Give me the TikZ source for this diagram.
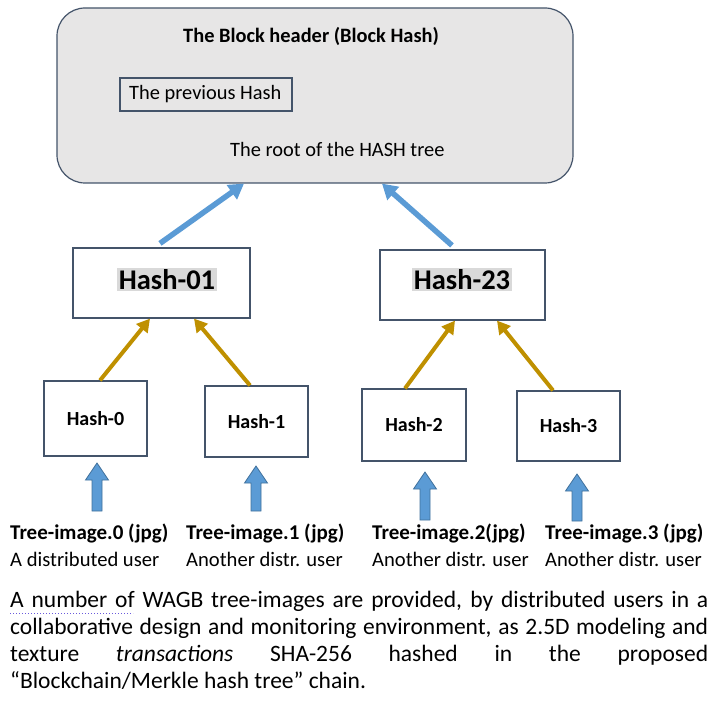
\documentclass[tikz,border=0pt]{standalone}
\usepackage{fontspec}
\setmainfont{Carlito}
\usetikzlibrary{arrows.meta,calc}
\definecolor{hdrgray}{HTML}{E7E6E6}
\definecolor{slate}{HTML}{44546A}
\definecolor{arrblue}{HTML}{5B9BD5}
\definecolor{arrblueedge}{HTML}{41719C}
\definecolor{gold}{HTML}{BF9000}
\definecolor{hilite}{HTML}{D9D9D9}
\definecolor{squiggle}{HTML}{6A5ADC}
\newcommand\bigup[3]{%
  \draw[blockarrow] (#1-5,#3) -- (#1-5,#2+17) -- (#1-11.5,#2+17) -- (#1,#2) -- (#1+11.5,#2+17) -- (#1+5,#2+17) -- (#1+5,#3) -- cycle;}
\begin{document}
\begin{tikzpicture}[x=1pt,y=-1pt,
  hdrbox/.style={draw=slate, fill=hdrgray, line width=1.2pt, rounded corners=28pt, minimum width=516pt, minimum height=175pt, inner sep=0pt},
  hbox/.style={draw=slate, fill=white, line width=1.2pt, inner sep=0pt},
  txt/.style={font=\fontsize{20.4}{24}\selectfont, inner sep=0pt},
  btxt/.style={font=\fontsize{20.4}{24}\selectfont\bfseries, inner sep=0pt},
  lbtxt/.style={font=\fontsize{21}{24}\selectfont\bfseries, inner sep=0pt},
  ltxt/.style={font=\fontsize{20.6}{24}\selectfont, inner sep=0pt},
  smbtxt/.style={font=\fontsize{20}{22}\selectfont\bfseries, inner sep=0pt},
  bigtxt/.style={font=\fontsize{28.5}{32}\selectfont\bfseries, fill=hilite, inner sep=1.5pt},
  ptxt/.style={font=\fontsize{23.5}{27}\selectfont, inner sep=0pt},
  bluearr/.style={draw=arrblue, line width=5.5pt, -{Triangle[length=15pt,width=17pt]}},
  goldarr/.style={draw=gold, line width=4pt, -{Triangle[length=13pt,width=14pt]}},
  blockarrow/.style={fill=arrblue, draw=arrblueedge, line width=0.8pt, line join=miter}
]
\useasboundingbox (0,0) rectangle (710,706);
% header
\node[hdrbox] (hdr) at (315,95.5) {};
\node[btxt, anchor=base west] (title) at (183,43) {The Block header (Block Hash)};
\node[hbox, fill=none, minimum width=172pt, minimum height=33pt] (prev) at (206,94.5) {};
\node[txt, anchor=base west] (prevtxt) at (129,100) {The previous Hash};
\node[txt, anchor=base west] (root) at (230,157) {The root of the HASH tree};
% level 1
\node[hbox, minimum width=177pt, minimum height=70pt] (h01) at (161.5,283) {};
\node[bigtxt, anchor=base] (h01t) at (167,289) {Hash-01};
\node[hbox, minimum width=165pt, minimum height=70pt] (h23) at (462.5,285) {};
\node[bigtxt, anchor=base] (h23t) at (462,289) {Hash-23};
% leaves
\node[hbox, minimum width=103pt, minimum height=75pt, smbtxt] (h0) at (95.5,418.5) {Hash-0};
\node[hbox, minimum width=103pt, minimum height=71pt, smbtxt] (h1) at (256.5,421.5) {Hash-1};
\node[hbox, minimum width=104pt, minimum height=72pt, smbtxt] (h2) at (414,425) {Hash-2};
\node[hbox, minimum width=103pt, minimum height=70pt, smbtxt] (h3) at (568.5,426) {Hash-3};
% arrows to header
\draw[bluearr] ([xshift=-1.5pt,yshift=4pt]h01.north) -- (hdr.south -| 244,0);
\draw[bluearr] ([xshift=-10.5pt,yshift=4pt]h23.north) -- (hdr.south -| 382,0);
% gold arrows
\draw[goldarr] ([xshift=4.5pt]h0.north) -- (h01.south -| 150,0);
\draw[goldarr] ([xshift=-6.5pt]h1.north) -- (h01.south -| 194,0);
\draw[goldarr] ([xshift=-9pt]h2.north) -- (h23.south -| 455,0);
\draw[goldarr] ([xshift=-15.5pt]h3.north) -- (h23.south -| 497,0);
% block arrows
\bigup{97}{463}{511}
\bigup{256}{466}{511}
\bigup{425}{472}{520}
\bigup{577}{474}{521}
% labels
\node[lbtxt, anchor=base west] (l0a) at (10,539) {Tree-image.0 (jpg)};
\node[ltxt, anchor=base west] (l0b) at (10,566) {A distributed user};
\node[lbtxt, anchor=base west] (l1a) at (186,539) {Tree-image.1 (jpg)};
\node[ltxt, anchor=base west] (l1b) at (186,566) {Another distr. user};
\node[lbtxt, anchor=base west] (l2a) at (372,539) {Tree-image.2(jpg)};
\node[ltxt, anchor=base west] (l2b) at (372,566) {Another distr. user};
\node[lbtxt, anchor=base west] (l3a) at (545,539) {Tree-image.3 (jpg)};
\node[ltxt, anchor=base west] (l3b) at (545,566) {Another distr. user};
% paragraph
\node[ptxt, anchor=base west] (p1) at (10,607) {\makebox[698pt][s]{A number of WAGB tree-images are provided, by distributed users in a}};
\node[ptxt, anchor=base west] (p2) at (10,634) {\makebox[698pt][s]{collaborative design and monitoring environment, as 2.5D modeling and}};
\node[ptxt, anchor=base west] (p3) at (10,661) {\makebox[698pt][s]{texture \textit{transactions} SHA-256 hashed in the proposed}};
\node[ptxt, anchor=base west] (p4) at (10,688) {“Blockchain/Merkle hash tree” chain.};
\draw[squiggle, line width=1pt, dotted] (10,613) -- (133,613);
\end{tikzpicture}
\end{document}
